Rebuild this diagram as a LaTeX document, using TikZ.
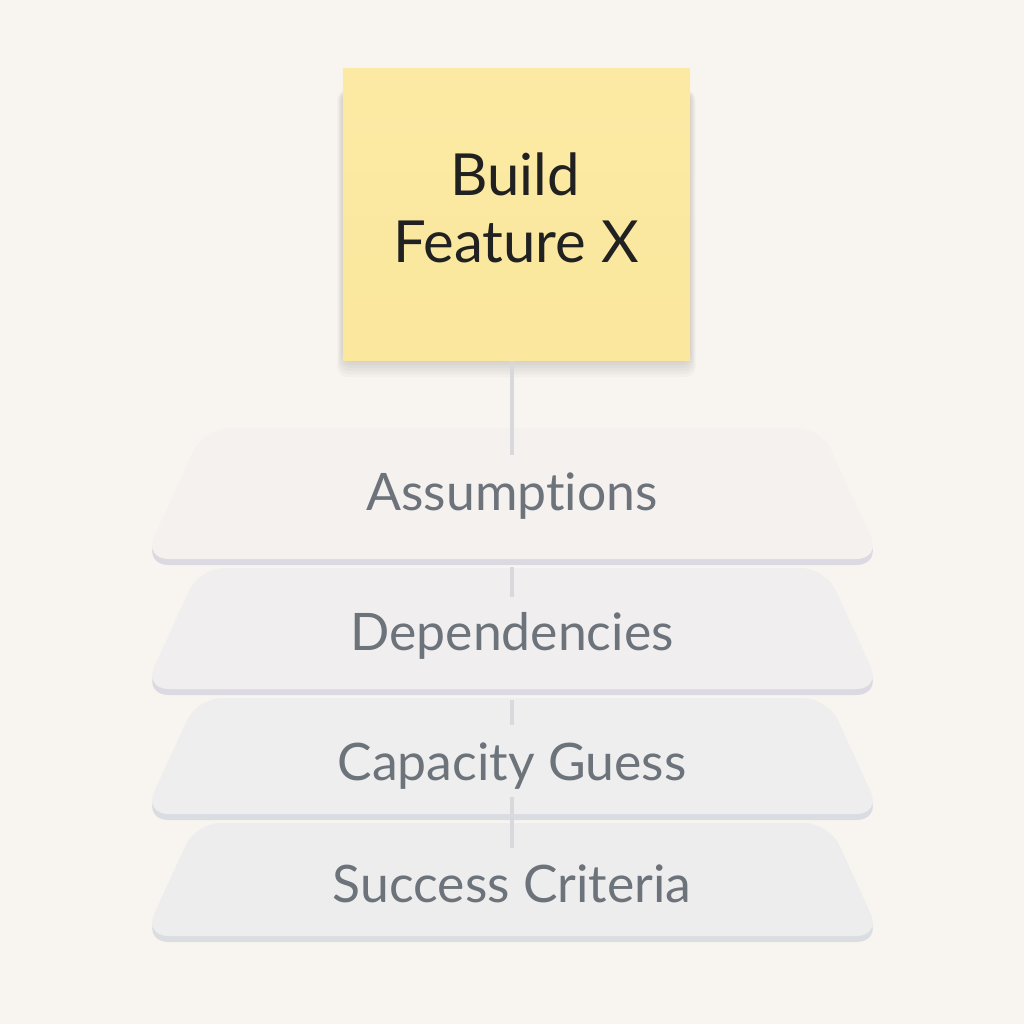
\documentclass[tikz,border=0pt]{standalone}
\usepackage{fontspec}
\setmainfont{Lato}[Ligatures=NoCommon]
\usetikzlibrary{calc}
\definecolor{paper}{HTML}{F8F5F1}
\definecolor{notefill}{HTML}{FBE79D}
\definecolor{notetop}{HTML}{FCEAA4}
\definecolor{stem}{HTML}{D9D8DD}
\definecolor{labelgray}{HTML}{6D737A}

\begin{document}
\begin{tikzpicture}[x=0.01cm, y=-0.01cm,
  note/.style={shape=rectangle, minimum width=3.47cm, minimum height=2.92cm, top color=notetop, bottom color=notefill, draw=none},
  note text/.style={anchor=base, font=\fontsize{16.5}{22}\selectfont, text=black!87},
  stem line/.style={draw=stem, line width=1.2pt},
  layer label/.style={anchor=base, font=\fontsize{14.7}{18}\selectfont, text=labelgray},
]
  % background
  \fill[paper] (0,0) rectangle (1024,1024);
  \useasboundingbox (0,0) rectangle (1024,1024);
  %
  % soft shadow under the note
  \foreach \s in {2,5,8,11,14,17}
    \fill[black, opacity=0.022, rounded corners=1mm] (343-\s/3,90) rectangle (690+\s/3,360+\s);
  %
  % the sticky note
  \node[note] (note) at (516.5,214.5) {};
  \node[note text] (build) at (515,195) {Build};
  \node[note text] (feature) at (516,262) {Feature X};
  %
  % stacked layers: top, bottom, fill, lip colour, label, baseline
  \foreach \top/\bot/\fillc/\lipc/\txt/\base/\nm in {
      428/559/F4F1EF/DDD9E3/Assumptions/510/assume,
      568/689/F0EEEF/DCD9E2/Dependencies/650/depend,
      698/814/EEEEEF/D9DCE1/Capacity Guess/780/capacity,
      823/936/EDEDED/DBDEE1/Success Criteria/902/success}{
    \pgfmathsetmacro{\inset}{0.45*(\bot-\top)}
    \definecolor{layerfill}{HTML}{\fillc}
    \definecolor{layerlip}{HTML}{\lipc}
    % lip
    \fill[layerlip, rounded corners=7pt]
      ($(145+\inset,\top+6)$) -- ($(880-\inset,\top+6)$) -- (881,\bot+6) -- (144,\bot+6) -- cycle;
    % surface
    \fill[layerfill, rounded corners=7pt]
      ($(145+\inset,\top)$) -- ($(880-\inset,\top)$) -- (881,\bot) -- (144,\bot) -- cycle;
    \node[layer label] (\nm) at (512,\base) {\txt};
  }
  %
  % the stem, in the pieces that show between the labels
  \coordinate (stem1) at (512,455);
  \coordinate (stem2) at (512,567);
  \coordinate (stem3) at (512,597);
  \coordinate (stem4) at (512,700);
  \coordinate (stem5) at (512,725);
  \coordinate (stem6) at (512,797);
  \coordinate (stem7) at (512,848);
  \draw[stem line] (note.south -| stem1) -- (stem1);
  \draw[stem line] (stem2) -- (stem3) (stem4) -- (stem5) (stem6) -- (stem7);
\end{tikzpicture}
\end{document}
